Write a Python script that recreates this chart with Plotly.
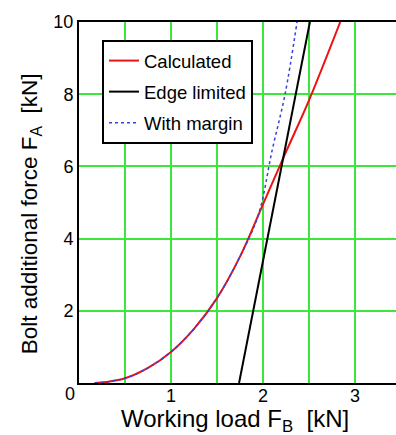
import plotly.graph_objects as go

# Data
calc_x = [0.17, 0.3, 0.5, 0.75, 1.0, 1.25, 1.5, 1.75, 2.0, 2.25, 2.5, 2.84]
calc_y = [0.0, 0.03, 0.13, 0.42, 0.86, 1.5, 2.35, 3.5, 4.95, 6.4, 7.83, 10.0]

edge_x = [1.74, 2.51]
edge_y = [0.0, 10.0]

margin_x = calc_x[:8] + [1.95, 2.10, 2.24, 2.37]
margin_y = calc_y[:8] + [4.66, 6.45, 8.0, 10.0]

x_tickvals = [1, 2, 3]
x_ticktext = ["1", "2", "3"]
y_tickvals = [2, 4, 6, 8, 10]
y_ticktext = ["2", "4", "6", "8", "10"]

FONT = "Liberation Sans, Arial, sans-serif"
GRID = "#3de63d"

fig = go.Figure()
fig.add_trace(go.Scatter(x=calc_x, y=calc_y, mode="lines", name="Calculated",
                         legendgroup="a",
                         line=dict(color="#ee1111", width=2, shape="spline")))
fig.add_trace(go.Scatter(x=edge_x, y=edge_y, mode="lines", name="Edge limited",
                         legendgroup="b",
                         line=dict(color="black", width=2)))
fig.add_trace(go.Scatter(x=margin_x, y=margin_y, mode="lines", name="With margin",
                         legendgroup="c",
                         line=dict(color="#3344dd", width=1.5, dash="3px,3px", shape="spline")))

fig.update_layout(
    width=396, height=435,
    margin=dict(l=79, r=0, t=22, b=52),
    paper_bgcolor="white", plot_bgcolor="white",
    font=dict(family=FONT, color="black", size=18),
    showlegend=True,
    legend=dict(x=0.0726, y=0.95, xanchor="left", yanchor="top",
                bgcolor="white", bordercolor="black", borderwidth=2,
                tracegroupgap=4, traceorder="grouped",
                font=dict(size=18.5, family=FONT)),
    xaxis=dict(range=[0, 3.446], tickvals=x_tickvals, ticktext=x_ticktext,
               showgrid=True, gridcolor=GRID, gridwidth=1.5,
               minor=dict(tick0=0, dtick=0.5, showgrid=True, gridcolor=GRID, gridwidth=1.5),
               showline=True, linecolor="black", linewidth=2, mirror=True,
               zeroline=False, ticks="", ticklabelstandoff=-5, tickfont=dict(size=18)),
    yaxis=dict(range=[0, 10], tickvals=y_tickvals, ticktext=y_ticktext,
               showgrid=True, gridcolor=GRID, gridwidth=1.5,
               showline=True, linecolor="black", linewidth=2,
               zeroline=False, ticks="", tickfont=dict(size=18)),
    annotations=[
        dict(text="0", x=-0.028, y=-0.030, xref="paper", yref="paper",
             xanchor="center", yanchor="middle", showarrow=False,
             font=dict(size=18)),
        dict(text="Working load F<sub>B</sub>\u00a0\u00a0[kN]", x=0.492, y=-0.105,
             xref="paper", yref="paper", xanchor="center", yanchor="middle",
             showarrow=False, font=dict(size=24)),
        dict(text="Bolt additional force F<sub>A</sub>\u00a0\u00a0[kN]", x=-0.151, y=0.468,
             xref="paper", yref="paper", xanchor="center", yanchor="middle",
             textangle=-90, showarrow=False, font=dict(size=22.5)),
    ],
)

fig.write_html("out.html")
